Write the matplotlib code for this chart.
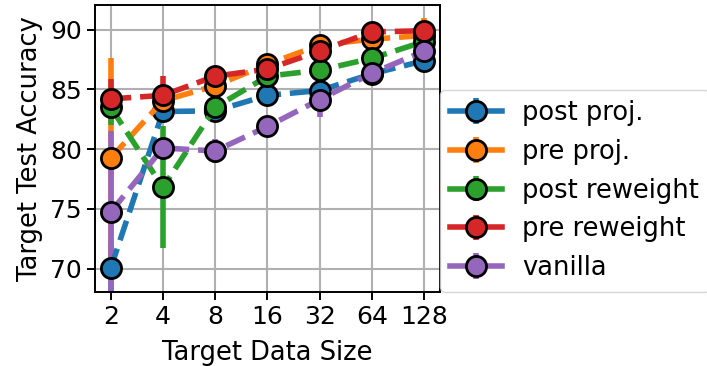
import numpy as np
import matplotlib
matplotlib.use("Agg")
from matplotlib import pyplot as plt

sizes = ["2", "4", "8", "16", "32", "64", "128"]
names = ["post proj.", "pre proj.", "post reweight", "pre reweight", "vanilla"]

post_proj = [70.05, 83.15, 83.2, 84.5, 84.9, 86.3, 87.4]
pre_proj = [79.25, 84.05, 85.3, 87.1, 88.7, 89.2, 89.5]
post_rew = [83.5, 76.8, 83.5, 86.1, 86.6, 87.6, 89.0]
pre_rew = [84.2, 84.5, 86.1, 86.7, 88.2, 89.8, 89.9]
vanilla = [74.75, 80.1, 79.85, 81.9, 84.15, 86.35, 88.2]

post_proj_err = [2.0, 0.6, 0.4, 0.5, 0.6, 0.5, 0.8]
pre_proj_err = [8.4, 0.6, 0.5, 0.7, 0.7, 0.6, 1.5]
post_rew_err = [1.5, 5.1, 0.6, 0.6, 0.5, 0.6, 0.8]
pre_rew_err = [1.7, 1.6, 0.5, 0.5, 0.5, 0.4, 0.6]
vanilla_err = [6.8, 0.8, 1.0, 0.8, 1.5, 0.6, 0.6]

plt.rcParams["font.size"] = 18.5
plt.rcParams["xtick.labelsize"] = 18
plt.rcParams["ytick.labelsize"] = 18
plt.rcParams["xtick.major.size"] = 6
plt.rcParams["ytick.major.size"] = 6
plt.rcParams["xtick.major.width"] = 1.4
plt.rcParams["ytick.major.width"] = 1.4
plt.rcParams["axes.linewidth"] = 1.4

fig = plt.figure(figsize=(7.07, 3.66), dpi=100)
ax = fig.add_axes([0.1344, 0.2035, 0.4879, 0.7828])

x = np.arange(len(sizes))
series = [post_proj, pre_proj, post_rew, pre_rew, vanilla]
errs = [post_proj_err, pre_proj_err, post_rew_err, pre_rew_err, vanilla_err]
proxies = []
for i, (vals, e, name) in enumerate(zip(series, errs, names)):
    ax.errorbar(x, vals, yerr=e, color=f"C{i}", ls="--", lw=4, marker="o",
                ms=14.5, mec="black", mew=2)
    # solid copy with no data, only for the legend
    proxies.append(ax.errorbar([np.nan], [np.nan], yerr=[1], color=f"C{i}",
                               ls="-", lw=4, marker="o", ms=14.5,
                               mec="black", mew=2))

ax.set_xticks(x)
ax.set_xticklabels(sizes)
ax.set_xlim(-0.3, 6.3)
ax.set_ylim(68.1, 92.05)
ax.set_yticks([70, 75, 80, 85, 90])
ax.grid(True, lw=1.5, color="#b0b0b0")
ax.set_axisbelow(True)
ax.set_xlabel("Target Data Size", labelpad=8)
ax.set_ylabel("Target Test Accuracy", labelpad=5)
ax.legend(proxies, names, loc="lower left", bbox_to_anchor=(1, 0),
          borderaxespad=0, fontsize=18.5)

fig.savefig("out.png", dpi=100)
